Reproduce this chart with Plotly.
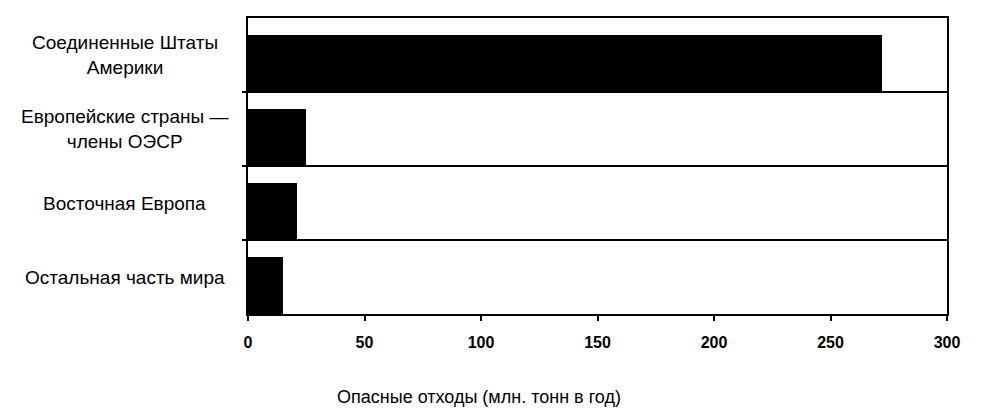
import plotly.graph_objects as go

categories = ["Соединенные Штаты<br>Америки", "Европейские страны —<br>члены ОЭСР",
              "Восточная Европа", "Остальная часть мира"]
values = [272, 25, 21, 15]
x_ticks = [0, 50, 100, 150, 200, 250, 300]
x_title = "Опасные отходы (млн. тонн в год)"

n = len(categories)
ypos = [n - 1 - i for i in range(n)]

fig = go.Figure()
fig.add_trace(go.Bar(
    x=values, y=ypos, orientation="h",
    width=0.77, offset=-0.5,
    marker=dict(color="black", line=dict(width=0)),
    hoverinfo="skip",
))

label_font = dict(family="Liberation Sans, Arial", size=19, color="black")
for cat, y in zip(categories, ypos):
    fig.add_annotation(x=-0.176, y=y, xref="paper", yref="y", text=cat,
                       showarrow=False, xanchor="center", yanchor="middle",
                       font=label_font, align="center")

fig.add_annotation(x=0.33, y=-0.282, xref="paper", yref="paper", text=x_title,
                   showarrow=False, xanchor="center", yanchor="middle",
                   font=dict(family="Liberation Sans, Arial", size=18, color="black"))

fig.update_layout(
    width=988, height=419,
    margin=dict(l=240, r=49, t=8, b=113),
    paper_bgcolor="white", plot_bgcolor="white",
    showlegend=False, bargap=0,
    xaxis=dict(range=[0, 300], tickvals=x_ticks, ticktext=[str(t) for t in x_ticks],
               showgrid=False, zeroline=False, showline=True, linecolor="black", linewidth=2,
               mirror=True, ticks="outside", ticklen=5, tickwidth=2, tickcolor="black",
               ticklabelstandoff=8,
               tickfont=dict(family="Liberation Sans, Arial", size=16, color="black", weight="bold"),
               fixedrange=True),
    yaxis=dict(range=[-0.5, n - 0.5], tickvals=[i + 0.5 for i in range(n - 1)], showticklabels=False,
               showgrid=True, gridcolor="black", gridwidth=2, zeroline=False,
               showline=True, linecolor="black", linewidth=2, mirror=True,
               ticks="outside", ticklen=4, tickwidth=2, tickcolor="black", fixedrange=True),
)

fig.write_html("out.html")
